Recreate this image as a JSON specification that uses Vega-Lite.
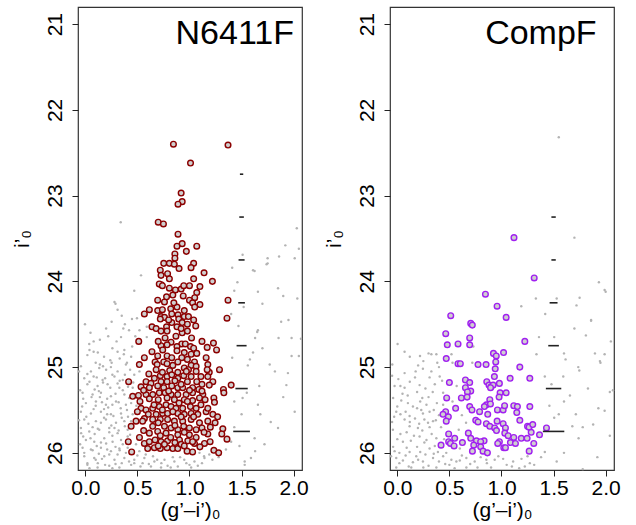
{
"$schema": "https://vega.github.io/schema/vega-lite/v6.json",
"padding": {"left": 10, "top": 6, "right": 10, "bottom": 2},
"spacing": 13,
"config": {
 "font": "Liberation Sans",
 "view": {"stroke": "#333", "strokeWidth": 1.2},
 "axis": {"grid": false, "domain": false, "tickColor": "#222", "tickSize": 6, "labelFont": "Liberation Sans", "titleFont": "Liberation Sans", "labelFontSize": 21, "titleFontSize": 21, "titleFontWeight": "normal", "labelColor": "#000", "titleColor": "#000", "labelOverlap": false, "labelFlush": false, "labelBound": false}
},
"datasets": {
 "grayL": [
{"x":0.34,"y":23.31},{"x":2.03,"y":23.38},{"x":1.92,"y":23.58},{"x":2.05,"y":23.62},{"x":1.86,"y":23.71},{"x":1.75,"y":23.73},{"x":2.01,"y":23.73},{"x":1.51,"y":23.69},{"x":1.41,"y":23.84},{"x":1.75,"y":23.79},{"x":1.625,"y":23.88},{"x":0.535,"y":23.93},{"x":1.46,"y":24.01},{"x":0.47,"y":24.11},{"x":1.85,"y":24.08},{"x":1.657,"y":24.12},{"x":1.9,"y":24.17},{"x":1.43,"y":24.11},{"x":2.035,"y":24.2},{"x":0.28,"y":24.24},{"x":0.31,"y":24.33},{"x":1.7,"y":24.26},{"x":1.4,"y":24.38},{"x":0.448,"y":24.44},{"x":0.496,"y":24.43},{"x":0.253,"y":24.47},{"x":-0.003,"y":24.5},{"x":1.88,"y":24.47},{"x":0.365,"y":24.55},{"x":0.42,"y":24.57},{"x":0.52,"y":24.57},{"x":0.59,"y":24.53},{"x":1.657,"y":24.57},{"x":1.65,"y":24.59},{"x":0.343,"y":24.65},{"x":0.59,"y":24.65},{"x":1.63,"y":24.66},{"x":1.855,"y":24.66},{"x":1.98,"y":24.66},{"x":2.07,"y":24.67},{"x":0.038,"y":24.73},{"x":0.08,"y":24.82},{"x":0.04,"y":24.8},{"x":0.26,"y":24.78},{"x":0.31,"y":24.82},{"x":0.37,"y":24.85},{"x":0.375,"y":24.8},{"x":0.24,"y":24.92},{"x":0.253,"y":24.95},{"x":0.4,"y":24.95},{"x":0.02,"y":24.86},{"x":0.14,"y":24.97},{"x":1.41,"y":24.89},{"x":1.58,"y":24.91},{"x":1.7,"y":24.78},{"x":1.61,"y":24.83},{"x":1.98,"y":24.87},{"x":2.05,"y":24.87},{"x":1.77,"y":24.97},{"x":1.61,"y":23.87},{"x":1.74,"y":23.8},{"x":0.29,"y":24.26},
{"x":-0.042,"y":24.99},{"x":0.054,"y":25.05},{"x":0.134,"y":25.01},{"x":0.2,"y":25.03},{"x":0.246,"y":25.0},{"x":0.31,"y":25.05},{"x":0.39,"y":24.97},{"x":-0.01,"y":25.13},{"x":0.08,"y":25.11},{"x":0.166,"y":25.15},{"x":0.28,"y":25.11},{"x":0.36,"y":25.15},{"x":0.02,"y":25.2},{"x":0.118,"y":25.22},{"x":0.214,"y":25.2},{"x":0.327,"y":25.24},{"x":-0.026,"y":25.3},{"x":0.07,"y":25.32},{"x":0.15,"y":25.3},{"x":0.246,"y":25.34},{"x":0.375,"y":25.32},{"x":0.006,"y":25.42},{"x":0.102,"y":25.4},{"x":0.198,"y":25.44},{"x":0.295,"y":25.4},{"x":0.39,"y":25.44},{"x":-0.042,"y":25.52},{"x":0.054,"y":25.54},{"x":0.15,"y":25.52},{"x":0.246,"y":25.55},{"x":0.343,"y":25.54},{"x":-0.01,"y":25.61},{"x":0.102,"y":25.63},{"x":0.198,"y":25.61},{"x":0.295,"y":25.65},{"x":0.375,"y":25.63},{"x":-0.042,"y":25.71},{"x":0.038,"y":25.75},{"x":0.134,"y":25.73},{"x":0.23,"y":25.71},{"x":0.31,"y":25.77},{"x":0.407,"y":25.73},{"x":0.006,"y":25.85},{"x":0.086,"y":25.87},{"x":0.182,"y":25.83},{"x":0.262,"y":25.87},{"x":0.343,"y":25.85},{"x":-0.026,"y":25.94},{"x":0.054,"y":25.96},{"x":0.15,"y":25.94},{"x":0.246,"y":25.98},{"x":0.327,"y":25.95},{"x":0.407,"y":25.94},{"x":-0.01,"y":26.04},{"x":0.086,"y":26.06},{"x":0.182,"y":26.04},{"x":0.28,"y":26.08},{"x":0.375,"y":26.06},{"x":0.47,"y":26.08},{"x":0.567,"y":26.06},{"x":0.663,"y":26.1},{"x":0.76,"y":26.08},{"x":0.855,"y":26.1},{"x":0.95,"y":26.08},{"x":1.048,"y":26.1},{"x":1.144,"y":26.06},{"x":0.02,"y":26.14},{"x":0.118,"y":26.17},{"x":0.23,"y":26.15},{"x":0.327,"y":26.17},{"x":0.44,"y":26.14},{"x":0.63,"y":26.16},{"x":0.727,"y":26.17},{"x":0.888,"y":26.16},{"x":1.016,"y":26.17},{"x":1.53,"y":26.1},{"x":1.53,"y":26.14},{"x":1.59,"y":26.06},
{"x":1.56,"y":24.98},{"x":1.82,"y":25.05},{"x":1.945,"y":25.07},{"x":1.67,"y":25.22},{"x":1.93,"y":25.21},{"x":1.51,"y":25.36},{"x":1.657,"y":25.44},{"x":2.01,"y":25.52},{"x":1.68,"y":25.55},{"x":1.78,"y":25.64},{"x":1.43,"y":25.7},{"x":1.625,"y":25.83},{"x":1.48,"y":25.92},{"x":1.4,"y":25.87},{"x":1.35,"y":25.96},{"x":1.85,"y":25.71},{"x":1.72,"y":25.9},{"x":0.47,"y":25.09},{"x":0.455,"y":25.24},{"x":0.44,"y":25.42},{"x":0.455,"y":25.55},{"x":0.407,"y":25.81},{"x":0.487,"y":25.9},{"x":0.519,"y":25.98},{"x":1.43,"y":25.4},{"x":1.096,"y":26.0},{"x":1.19,"y":26.02},
{"x":0.02,"y":25.08},{"x":0.11,"y":25.12},{"x":0.17,"y":25.18},{"x":0.26,"y":25.09},{"x":0.33,"y":25.16},{"x":0.43,"y":25.03},{"x":-0.05,"y":25.27},{"x":0.06,"y":25.35},{"x":0.13,"y":25.28},{"x":0.21,"y":25.37},{"x":0.29,"y":25.31},{"x":0.36,"y":25.27},{"x":0.42,"y":25.36},{"x":-0.03,"y":25.46},{"x":0.08,"y":25.49},{"x":0.16,"y":25.41},{"x":0.22,"y":25.47},{"x":0.27,"y":25.57},{"x":0.34,"y":25.48},{"x":0.41,"y":25.58},{"x":-0.06,"y":25.62},{"x":0.03,"y":25.66},{"x":0.12,"y":25.72},{"x":0.18,"y":25.59},{"x":0.25,"y":25.68},{"x":0.32,"y":25.74},{"x":0.38,"y":25.69},{"x":-0.02,"y":25.81},{"x":0.09,"y":25.78},{"x":0.15,"y":25.88},{"x":0.23,"y":25.76},{"x":0.29,"y":25.93},{"x":0.36,"y":25.9},{"x":0.43,"y":25.79},{"x":-0.05,"y":25.9},{"x":0.07,"y":25.97},{"x":0.13,"y":26.01},{"x":0.21,"y":25.96},{"x":0.31,"y":26.02},{"x":0.39,"y":26.0},{"x":0.47,"y":26.12},{"x":0.02,"y":26.12},{"x":0.1,"y":26.08},{"x":0.19,"y":26.14},{"x":0.26,"y":26.18},{"x":0.35,"y":26.12},{"x":0.53,"y":26.16},{"x":0.61,"y":26.13},{"x":0.69,"y":26.08},{"x":0.79,"y":26.15},{"x":0.84,"y":26.05},{"x":0.97,"y":26.12},{"x":1.08,"y":26.15},{"x":1.14,"y":26.04},{"x":1.22,"y":26.08},{"x":0.58,"y":26.02},{"x":0.49,"y":25.45},{"x":0.46,"y":25.18},{"x":0.52,"y":25.05},{"x":0.05,"y":24.6},{"x":0.14,"y":24.68},{"x":0.18,"y":24.88},{"x":0.3,"y":24.7},{"x":0.45,"y":24.76},{"x":0.1,"y":24.95},{"x":0.35,"y":24.4},{"x":0.2,"y":24.55},
{"x":-0.06,"y":25.05},{"x":0.04,"y":25.17},{"x":0.09,"y":25.26},{"x":0.19,"y":25.13},{"x":0.24,"y":25.24},{"x":0.31,"y":25.19},{"x":0.38,"y":25.09},{"x":0.41,"y":25.23},{"x":-0.02,"y":25.37},{"x":0.1,"y":25.45},{"x":0.14,"y":25.35},{"x":0.18,"y":25.49},{"x":0.26,"y":25.44},{"x":0.32,"y":25.41},{"x":0.4,"y":25.5},{"x":0.01,"y":25.58},{"x":0.07,"y":25.7},{"x":0.15,"y":25.65},{"x":0.21,"y":25.55},{"x":0.28,"y":25.71},{"x":0.35,"y":25.59},{"x":0.44,"y":25.63},{"x":-0.04,"y":25.77},{"x":0.05,"y":25.83},{"x":0.11,"y":25.92},{"x":0.2,"y":25.89},{"x":0.26,"y":25.8},{"x":0.33,"y":25.97},{"x":0.4,"y":25.85},{"x":-0.01,"y":26.0},{"x":0.04,"y":26.18},{"x":0.12,"y":26.12},{"x":0.16,"y":26.07},{"x":0.23,"y":26.02},{"x":0.29,"y":26.13},{"x":0.42,"y":26.1},{"x":0.5,"y":26.03},{"x":0.55,"y":26.12},{"x":0.65,"y":26.04},{"x":0.73,"y":26.12},{"x":0.82,"y":26.17},{"x":0.91,"y":26.05},{"x":1.0,"y":26.14},{"x":1.12,"y":26.12},{"x":1.28,"y":26.05},{"x":0.08,"y":24.7},{"x":0.22,"y":24.64},{"x":0.12,"y":24.83},{"x":0.33,"y":24.9},{"x":0.44,"y":24.88},{"x":0.17,"y":24.99},{"x":0.48,"y":24.64},{"x":0.38,"y":24.5},{"x":1.47,"y":24.52},{"x":1.55,"y":25.3},{"x":1.9,"y":25.35},{"x":1.63,"y":25.98},{"x":1.5,"y":25.55},{"x":1.95,"y":24.45},{"x":1.52,"y":24.3}
 ],
 "redL": [
{"x":0.846,"y":22.4},{"x":1.37,"y":22.41},{"x":1.01,"y":22.62},{"x":0.92,"y":22.97},{"x":0.93,"y":23.07},{"x":0.89,"y":23.1},{"x":0.7,"y":23.31},{"x":0.75,"y":23.33},{"x":0.89,"y":23.45},{"x":0.93,"y":23.56},{"x":0.88,"y":23.59},{"x":1.07,"y":23.59},{"x":0.97,"y":23.65},{"x":0.86,"y":23.68},{"x":0.86,"y":23.73},
{"x":0.753,"y":23.79},{"x":0.807,"y":23.79},{"x":0.855,"y":23.8},{"x":1.04,"y":23.79},{"x":1.015,"y":23.84},{"x":0.9,"y":23.85},{"x":0.72,"y":23.87},{"x":0.79,"y":23.91},{"x":0.727,"y":23.93},{"x":1.14,"y":23.9},{"x":0.807,"y":23.97},{"x":1.04,"y":23.97},{"x":1.22,"y":24.0},{"x":0.73,"y":24.04},{"x":0.71,"y":24.03},{"x":0.74,"y":24.05},{"x":0.807,"y":24.08},{"x":0.865,"y":24.1},{"x":0.92,"y":24.09},{"x":0.945,"y":24.05},{"x":1.0,"y":24.05},{"x":1.1,"y":24.06},{"x":1.07,"y":24.13},{"x":0.84,"y":24.16},{"x":1.05,"y":24.19},{"x":1.0,"y":24.22},{"x":0.695,"y":24.22},{"x":0.76,"y":24.24},{"x":1.03,"y":24.25},{"x":1.1,"y":24.27},{"x":1.37,"y":24.22},{"x":1.05,"y":24.3},{"x":0.88,"y":24.3},{"x":0.615,"y":24.33},{"x":0.567,"y":24.38},{"x":0.695,"y":24.34},{"x":0.74,"y":24.33},{"x":0.82,"y":24.32},{"x":0.95,"y":24.34},{"x":0.83,"y":24.38},{"x":0.89,"y":24.39},{"x":0.727,"y":24.41},{"x":0.76,"y":24.42},{"x":0.72,"y":24.44},{"x":0.897,"y":24.44},{"x":0.95,"y":24.41},{"x":0.99,"y":24.41},{"x":1.04,"y":24.45},{"x":1.36,"y":24.43},{"x":0.83,"y":24.48},{"x":0.93,"y":24.48},{"x":0.98,"y":24.5},{"x":1.06,"y":24.52},{"x":0.64,"y":24.53},{"x":0.68,"y":24.55},{"x":0.78,"y":24.53},{"x":0.88,"y":24.53},{"x":0.727,"y":24.58},{"x":0.785,"y":24.58},{"x":0.93,"y":24.6},{"x":0.98,"y":24.58},{"x":0.87,"y":24.64},{"x":0.766,"y":24.66},{"x":0.823,"y":24.71},{"x":0.926,"y":24.73},{"x":0.96,"y":24.73},{"x":0.513,"y":24.7},{"x":0.727,"y":24.75},{"x":0.785,"y":24.74},{"x":0.88,"y":24.76},{"x":1.01,"y":24.76},{"x":1.04,"y":24.78},{"x":1.17,"y":24.77},{"x":1.23,"y":24.72},{"x":1.26,"y":24.8},{"x":0.743,"y":24.8},{"x":0.88,"y":24.81},{"x":0.95,"y":24.83},{"x":1.016,"y":24.85},{"x":1.07,"y":24.84},{"x":0.567,"y":24.89},{"x":0.695,"y":24.87},{"x":0.785,"y":24.87},{"x":0.83,"y":24.89},{"x":0.926,"y":24.89},{"x":0.98,"y":24.91},{"x":1.16,"y":24.89},{"x":0.67,"y":24.94},{"x":0.753,"y":24.94},{"x":0.888,"y":24.94},{"x":1.048,"y":24.94},{"x":1.176,"y":24.97},{"x":0.519,"y":24.97},
{"x":0.69,"y":24.97},{"x":0.785,"y":24.96},{"x":0.84,"y":24.98},{"x":0.95,"y":25.01},{"x":1.016,"y":24.98},{"x":1.064,"y":24.99},{"x":1.288,"y":25.03},{"x":0.68,"y":25.03},{"x":0.81,"y":25.04},{"x":0.888,"y":25.06},{"x":0.99,"y":25.03},{"x":1.064,"y":25.05},{"x":1.19,"y":25.06},{"x":0.72,"y":25.1},{"x":0.785,"y":25.11},{"x":0.83,"y":25.09},{"x":0.945,"y":25.1},{"x":1.016,"y":25.11},{"x":1.11,"y":25.11},{"x":1.176,"y":25.11},{"x":0.663,"y":25.13},{"x":0.888,"y":25.13},{"x":0.416,"y":25.17},{"x":0.583,"y":25.17},{"x":0.63,"y":25.19},{"x":0.727,"y":25.17},{"x":0.785,"y":25.17},{"x":0.98,"y":25.17},{"x":1.07,"y":25.17},{"x":1.12,"y":25.2},{"x":1.224,"y":25.17},{"x":1.4,"y":25.21},{"x":0.535,"y":25.23},{"x":0.615,"y":25.24},{"x":0.695,"y":25.22},{"x":0.753,"y":25.24},{"x":0.83,"y":25.22},{"x":0.888,"y":25.24},{"x":0.935,"y":25.24},{"x":1.03,"y":25.24},{"x":1.09,"y":25.26},{"x":1.19,"y":25.21},{"x":1.326,"y":25.26},{"x":1.33,"y":25.3},{"x":0.455,"y":25.34},{"x":0.51,"y":25.33},{"x":0.583,"y":25.32},{"x":0.647,"y":25.32},{"x":0.71,"y":25.3},{"x":0.766,"y":25.3},{"x":0.823,"y":25.32},{"x":0.888,"y":25.32},{"x":0.968,"y":25.32},{"x":1.03,"y":25.3},{"x":1.128,"y":25.32},{"x":0.615,"y":25.37},{"x":0.785,"y":25.36},{"x":0.855,"y":25.38},{"x":0.95,"y":25.38},{"x":1.03,"y":25.39},{"x":1.096,"y":25.36},{"x":1.234,"y":25.36},{"x":1.24,"y":25.41},{"x":0.525,"y":25.4},{"x":0.535,"y":25.48},{"x":0.583,"y":25.5},{"x":0.647,"y":25.48},{"x":0.71,"y":25.46},{"x":0.775,"y":25.44},{"x":0.823,"y":25.46},{"x":0.87,"y":25.48},{"x":0.935,"y":25.48},{"x":1.009,"y":25.46},{"x":1.064,"y":25.48},{"x":1.11,"y":25.44},{"x":1.16,"y":25.52},{"x":1.224,"y":25.55},{"x":0.605,"y":25.55},{"x":0.68,"y":25.55},{"x":0.743,"y":25.54},{"x":0.79,"y":25.54},{"x":0.888,"y":25.54},{"x":0.95,"y":25.55},{"x":1.016,"y":25.54},{"x":1.08,"y":25.55},{"x":1.176,"y":25.48},{"x":0.487,"y":25.63},{"x":0.567,"y":25.6},{"x":0.647,"y":25.61},{"x":0.72,"y":25.61},{"x":0.79,"y":25.61},{"x":0.855,"y":25.63},{"x":0.935,"y":25.63},{"x":1.016,"y":25.61},{"x":1.096,"y":25.65},{"x":1.176,"y":25.63},{"x":1.246,"y":25.65},{"x":0.44,"y":25.69},{"x":0.56,"y":25.74},{"x":0.647,"y":25.69},{"x":0.695,"y":25.75},{"x":0.76,"y":25.69},{"x":0.823,"y":25.71},{"x":0.888,"y":25.73},{"x":0.945,"y":25.69},{"x":0.999,"y":25.71},{"x":1.064,"y":25.73},{"x":1.12,"y":25.71},{"x":1.176,"y":25.78},{"x":1.32,"y":25.72},{"x":1.31,"y":25.78},{"x":0.615,"y":25.77},{"x":0.775,"y":25.77},{"x":0.888,"y":25.79},{"x":0.999,"y":25.79},{"x":1.064,"y":25.82},{"x":0.413,"y":25.87},{"x":0.567,"y":25.89},{"x":0.615,"y":25.87},{"x":0.67,"y":25.85},{"x":0.727,"y":25.87},{"x":0.79,"y":25.86},{"x":0.904,"y":25.85},{"x":0.984,"y":25.86},{"x":1.048,"y":25.89},{"x":1.144,"y":25.89},{"x":1.198,"y":25.87},{"x":1.36,"y":25.84},{"x":0.599,"y":25.95},{"x":0.663,"y":25.94},{"x":0.72,"y":25.95},{"x":0.785,"y":25.94},{"x":0.84,"y":25.95},{"x":0.888,"y":25.95},{"x":0.977,"y":25.98},{"x":1.03,"y":25.99},{"x":0.445,"y":25.99},{"x":1.234,"y":25.97},{"x":1.28,"y":26.0},{"x":0.92,"y":25.9},{"x":0.76,"y":25.9},
{"x":0.74,"y":25.06},{"x":0.86,"y":25.16},{"x":0.92,"y":25.2},{"x":1.0,"y":25.27},{"x":0.8,"y":25.28},{"x":0.7,"y":25.38},{"x":0.9,"y":25.42},{"x":0.98,"y":25.4},{"x":0.74,"y":25.5},{"x":0.84,"y":25.52},{"x":0.92,"y":25.58},{"x":1.04,"y":25.58},{"x":0.7,"y":25.65},{"x":0.86,"y":25.68},{"x":0.95,"y":25.76},{"x":0.72,"y":25.8},{"x":0.82,"y":25.82},{"x":0.86,"y":25.88},{"x":0.95,"y":25.92},{"x":0.7,"y":25.92},{"x":1.1,"y":25.93},{"x":0.97,"y":25.05},{"x":1.12,"y":25.28},{"x":1.15,"y":25.38},{"x":0.66,"y":25.44},{"x":0.56,"y":25.27},{"x":0.5,"y":25.52},{"x":1.27,"y":25.58},{"x":1.2,"y":25.7},{"x":0.52,"y":25.82},{"x":1.02,"y":24.66},{"x":0.7,"y":24.7},{"x":0.64,"y":24.82},{"x":0.92,"y":24.55},{"x":0.8,"y":24.45},{"x":0.85,"y":24.25},{"x":0.78,"y":24.18},{"x":0.94,"y":24.17},{"x":1.12,"y":24.7},{"x":1.17,"y":25.03},{"x":0.61,"y":25.08},{"x":0.55,"y":25.63},{"x":1.14,"y":25.76},{"x":1.03,"y":25.87}
 ],
 "errL": [
{"y":22.75,"x":1.484,"x2":1.516},{"y":23.25,"x":1.478,"x2":1.522},{"y":23.75,"x":1.471,"x2":1.529},{"y":24.25,"x":1.468,"x2":1.532},{"y":24.75,"x":1.452,"x2":1.548},{"y":25.25,"x":1.441,"x2":1.559},{"y":25.75,"x":1.42,"x2":1.58}
 ],
 "grayR": [
{"x":1.55,"y":22.32},{"x":1.7,"y":23.49},{"x":1.935,"y":24.01},{"x":2.0,"y":24.12},{"x":1.33,"y":24.2},{"x":1.53,"y":24.2},{"x":1.75,"y":24.19},{"x":1.19,"y":24.29},{"x":1.72,"y":24.28},{"x":1.86,"y":24.46},{"x":0.003,"y":24.73},{"x":0.07,"y":24.82},{"x":0.218,"y":24.87},{"x":0.3,"y":24.84},{"x":0.327,"y":24.85},{"x":0.375,"y":24.85},{"x":0.384,"y":24.95},{"x":0.53,"y":24.95},{"x":0.72,"y":24.95},{"x":0.73,"y":24.76},{"x":1.36,"y":24.65},{"x":1.506,"y":24.65},{"x":1.81,"y":24.63},{"x":1.336,"y":24.85},{"x":1.6,"y":24.84},{"x":1.615,"y":24.91},{"x":1.897,"y":24.84},{"x":1.99,"y":24.85},{"x":1.95,"y":24.95},
{"x":-0.048,"y":24.97},{"x":0.07,"y":25.07},{"x":0.246,"y":25.02},{"x":0.327,"y":25.05},{"x":0.176,"y":25.05},{"x":-0.026,"y":25.22},{"x":0.07,"y":25.24},{"x":0.214,"y":25.21},{"x":0.31,"y":25.12},{"x":0.407,"y":25.11},{"x":0.038,"y":25.39},{"x":0.102,"y":25.42},{"x":0.23,"y":25.5},{"x":0.246,"y":25.54},{"x":0.31,"y":25.52},{"x":0.07,"y":25.61},{"x":0.118,"y":25.57},{"x":-0.01,"y":25.52},{"x":0.343,"y":25.63},{"x":0.295,"y":25.65},{"x":0.198,"y":25.71},{"x":0.118,"y":25.69},{"x":-0.042,"y":25.73},{"x":0.054,"y":25.87},{"x":0.214,"y":25.81},{"x":0.28,"y":25.85},{"x":0.375,"y":25.83},{"x":-0.026,"y":25.98},{"x":0.02,"y":26.0},{"x":0.118,"y":25.99},{"x":0.182,"y":26.04},{"x":-0.01,"y":26.06},{"x":0.054,"y":26.09},{"x":0.246,"y":26.1},{"x":0.343,"y":26.06},{"x":0.44,"y":26.04},{"x":0.519,"y":26.08},{"x":0.567,"y":26.1},{"x":0.663,"y":26.06},{"x":0.743,"y":26.1},{"x":0.855,"y":26.08},{"x":0.935,"y":26.08},{"x":1.016,"y":26.07},{"x":1.112,"y":26.1},{"x":1.192,"y":26.07},{"x":1.272,"y":26.12},{"x":-0.01,"y":26.17},{"x":0.134,"y":26.17},{"x":0.375,"y":26.17},{"x":0.663,"y":26.17},{"x":1.53,"y":26.1},{"x":1.224,"y":26.16},{"x":1.314,"y":26.14},{"x":1.416,"y":25.11},{"x":1.593,"y":25.11},{"x":1.737,"y":25.0},{"x":1.747,"y":25.04},{"x":1.945,"y":24.93},{"x":2.04,"y":25.29},{"x":1.657,"y":25.33},{"x":1.93,"y":25.48},{"x":1.506,"y":25.59},{"x":1.68,"y":25.69},{"x":1.714,"y":25.55},{"x":1.416,"y":25.99},{"x":1.74,"y":25.83},{"x":1.88,"y":25.67},
{"x":0.01,"y":25.14},{"x":0.12,"y":25.17},{"x":0.19,"y":25.29},{"x":0.27,"y":25.25},{"x":0.36,"y":25.2},{"x":0.44,"y":25.3},{"x":-0.04,"y":25.36},{"x":0.05,"y":25.31},{"x":0.15,"y":25.46},{"x":0.22,"y":25.4},{"x":0.38,"y":25.42},{"x":0.3,"y":25.35},{"x":0.03,"y":25.55},{"x":0.17,"y":25.6},{"x":0.26,"y":25.61},{"x":0.4,"y":25.56},{"x":-0.05,"y":25.64},{"x":0.09,"y":25.76},{"x":0.24,"y":25.74},{"x":0.33,"y":25.78},{"x":0.42,"y":25.7},{"x":0.0,"y":25.84},{"x":0.13,"y":25.86},{"x":0.19,"y":25.93},{"x":0.31,"y":25.95},{"x":0.39,"y":25.99},{"x":-0.06,"y":26.04},{"x":0.08,"y":26.03},{"x":0.15,"y":26.11},{"x":0.27,"y":26.02},{"x":0.3,"y":26.15},{"x":0.46,"y":26.13},{"x":0.55,"y":26.18},{"x":0.62,"y":26.03},{"x":0.7,"y":26.13},{"x":0.8,"y":26.05},{"x":0.9,"y":26.17},{"x":0.97,"y":26.04},{"x":1.05,"y":26.14},{"x":1.17,"y":26.18},{"x":0.59,"y":25.73},{"x":0.62,"y":25.56},{"x":0.57,"y":25.22},{"x":0.4,"y":25.0},{"x":0.12,"y":24.88},{"x":0.25,"y":24.93},{"x":1.99,"y":24.1},{"x":1.86,"y":24.45},{"x":2.07,"y":25.27},{"x":2.04,"y":25.8},{"x":1.78,"y":25.7},{"x":1.99,"y":25.51},{"x":1.78,"y":26.19},{"x":1.6,"y":25.4},{"x":1.48,"y":25.2},{"x":1.55,"y":25.55},{"x":1.38,"y":26.05},{"x":1.46,"y":25.45},
{"x":-0.05,"y":25.1},{"x":0.03,"y":25.22},{"x":0.1,"y":25.33},{"x":0.17,"y":25.12},{"x":0.24,"y":25.36},{"x":0.34,"y":25.29},{"x":0.43,"y":25.16},{"x":0.0,"y":25.46},{"x":0.08,"y":25.52},{"x":0.19,"y":25.48},{"x":0.28,"y":25.44},{"x":0.35,"y":25.5},{"x":0.44,"y":25.44},{"x":-0.03,"y":25.58},{"x":0.12,"y":25.64},{"x":0.21,"y":25.66},{"x":0.31,"y":25.7},{"x":0.37,"y":25.62},{"x":0.03,"y":25.78},{"x":0.16,"y":25.8},{"x":0.26,"y":25.88},{"x":0.36,"y":25.92},{"x":0.45,"y":25.84},{"x":-0.04,"y":25.93},{"x":0.09,"y":25.94},{"x":0.22,"y":25.99},{"x":0.35,"y":26.01},{"x":0.47,"y":26.0},{"x":0.02,"y":26.12},{"x":0.11,"y":26.16},{"x":0.2,"y":26.08},{"x":0.25,"y":26.17},{"x":0.4,"y":26.1},{"x":0.5,"y":26.14},{"x":0.6,"y":26.09},{"x":0.77,"y":26.17},{"x":0.86,"y":26.12},{"x":1.1,"y":26.16},{"x":1.25,"y":26.04},{"x":0.53,"y":25.4},{"x":0.6,"y":25.95},{"x":0.66,"y":25.65},{"x":0.52,"y":24.85},{"x":0.2,"y":24.98},{"x":1.42,"y":24.38},{"x":1.7,"y":24.55},{"x":2.05,"y":24.7},{"x":1.6,"y":26.0},{"x":1.92,"y":26.05},{"x":1.83,"y":25.25}
 ],
 "purpR": [
{"x":1.12,"y":23.49},{"x":1.314,"y":23.96},{"x":0.846,"y":24.15},{"x":0.958,"y":24.29},{"x":0.513,"y":24.4},{"x":1.045,"y":24.42},{"x":0.705,"y":24.49},{"x":0.72,"y":24.51},{"x":0.465,"y":24.61},{"x":0.695,"y":24.66},{"x":1.224,"y":24.7},{"x":0.48,"y":24.74},{"x":0.583,"y":24.73},{"x":0.695,"y":24.74},{"x":0.47,"y":24.9},{"x":0.923,"y":24.84},{"x":0.95,"y":24.87},{"x":1.02,"y":24.83},{"x":0.945,"y":24.94},{"x":0.583,"y":24.96},{"x":0.605,"y":24.96},{"x":0.775,"y":24.97},{"x":0.852,"y":24.97},{"x":1.176,"y":25.0},{"x":0.94,"y":25.02},
{"x":0.932,"y":25.11},{"x":1.083,"y":25.13},{"x":1.272,"y":25.13},{"x":0.654,"y":25.15},{"x":0.695,"y":25.18},{"x":0.859,"y":25.17},{"x":0.98,"y":25.19},{"x":0.5,"y":25.18},{"x":0.88,"y":25.21},{"x":0.9,"y":25.23},{"x":0.92,"y":25.21},{"x":0.895,"y":25.24},{"x":0.654,"y":25.24},{"x":0.705,"y":25.28},{"x":0.673,"y":25.29},{"x":0.987,"y":25.3},{"x":1.045,"y":25.3},{"x":0.615,"y":25.36},{"x":0.67,"y":25.35},{"x":0.474,"y":25.36},{"x":0.888,"y":25.38},{"x":0.977,"y":25.35},{"x":0.855,"y":25.44},{"x":0.836,"y":25.46},{"x":0.695,"y":25.46},{"x":0.717,"y":25.5},{"x":0.56,"y":25.48},{"x":0.79,"y":25.52},{"x":0.894,"y":25.43},{"x":0.961,"y":25.5},{"x":1.016,"y":25.5},{"x":1.03,"y":25.45},{"x":1.118,"y":25.45},{"x":1.153,"y":25.46},{"x":1.272,"y":25.46},{"x":1.147,"y":25.53},{"x":0.868,"y":25.55},{"x":0.464,"y":25.52},{"x":0.439,"y":25.55},{"x":0.49,"y":25.58},{"x":0.47,"y":25.63},{"x":0.753,"y":25.62},{"x":0.775,"y":25.64},{"x":0.958,"y":25.63},{"x":1.016,"y":25.66},{"x":1.176,"y":25.62},{"x":0.855,"y":25.66},{"x":0.888,"y":25.69},{"x":1.25,"y":25.69},{"x":1.265,"y":25.7},{"x":1.3,"y":25.67},{"x":1.432,"y":25.71},{"x":0.935,"y":25.71},{"x":1.038,"y":25.71},{"x":0.952,"y":25.74},{"x":1.032,"y":25.77},{"x":0.682,"y":25.77},{"x":1.285,"y":25.76},{"x":1.365,"y":25.79},{"x":1.064,"y":25.8},{"x":1.118,"y":25.82},{"x":0.493,"y":25.78},{"x":0.551,"y":25.83},{"x":0.705,"y":25.83},{"x":0.76,"y":25.86},{"x":0.833,"y":25.86},{"x":0.8,"y":25.87},{"x":0.98,"y":25.87},{"x":0.964,"y":25.89},{"x":1.086,"y":25.88},{"x":1.134,"y":25.89},{"x":1.19,"y":25.83},{"x":1.246,"y":25.83},{"x":1.31,"y":25.89},{"x":0.493,"y":25.87},{"x":0.51,"y":25.89},{"x":0.42,"y":25.91},{"x":0.545,"y":25.92},{"x":0.625,"y":25.88},{"x":0.734,"y":25.91},{"x":0.8,"y":25.93},{"x":1.022,"y":25.94},{"x":1.038,"y":25.94},{"x":0.721,"y":25.98},{"x":0.823,"y":25.98},{"x":0.865,"y":26.0},{"x":1.266,"y":25.98}
 ],
 "errR": [
{"y":23.25,"x":1.479,"x2":1.521},{"y":23.75,"x":1.479,"x2":1.521},{"y":24.25,"x":1.462,"x2":1.538},{"y":24.75,"x":1.449,"x2":1.551},{"y":25.25,"x":1.426,"x2":1.574},{"y":25.75,"x":1.397,"x2":1.603}
 ]
},
"hconcat": [
 {
  "width": 224, "height": 463,
  "encoding": {
   "x": {"field": "x", "type": "quantitative", "scale": {"domain": [-0.07, 2.08], "nice": false, "zero": false}, "axis": {"values": [0, 0.5, 1, 1.5, 2], "format": ".1f", "title": "(g’–i’)₀", "labelPadding": 1, "titlePadding": 1}},
   "y": {"field": "y", "type": "quantitative", "scale": {"domain": [20.8, 26.2], "nice": false, "zero": false, "reverse": true}, "axis": {"values": [21, 22, 23, 24, 25, 26], "title": "i’₀", "labelAngle": -90, "labelAlign": "center", "labelBaseline": "bottom", "labelPadding": 7, "titlePadding": 12}}
  },
  "layer": [
   {"data": {"name": "grayL"}, "mark": {"type": "circle", "size": 6, "color": "#b3b3b3", "opacity": 1}},
   {"data": {"name": "redL"}, "mark": {"type": "circle", "size": 32, "fill": "#cfcfcf", "stroke": "#8b0000", "strokeWidth": 1.4, "opacity": 1}},
   {"data": {"name": "errL"}, "mark": {"type": "rule", "color": "#222", "strokeWidth": 1.6}, "encoding": {"x2": {"field": "x2"}}},
   {"data": {"values": [{"label": "N6411F", "x": 2.003, "y": 21.23}]}, "mark": {"type": "text", "align": "right", "baseline": "alphabetic", "fontSize": 34, "font": "Liberation Sans", "color": "#000"}, "encoding": {"text": {"field": "label"}}}
  ]
 },
 {
  "width": 224, "height": 463,
  "encoding": {
   "x": {"field": "x", "type": "quantitative", "scale": {"domain": [-0.07, 2.08], "nice": false, "zero": false}, "axis": {"values": [0, 0.5, 1, 1.5, 2], "format": ".1f", "title": "(g’–i’)₀", "labelPadding": 1, "titlePadding": 1}},
   "y": {"field": "y", "type": "quantitative", "scale": {"domain": [20.8, 26.2], "nice": false, "zero": false, "reverse": true}, "axis": {"values": [21, 22, 23, 24, 25, 26], "title": "i’₀", "labelAngle": -90, "labelAlign": "center", "labelBaseline": "bottom", "labelPadding": 7, "titlePadding": 12}}
  },
  "layer": [
   {"data": {"name": "grayR"}, "mark": {"type": "circle", "size": 6, "color": "#b3b3b3", "opacity": 1}},
   {"data": {"name": "purpR"}, "mark": {"type": "circle", "size": 32, "fill": "#cfcfcf", "stroke": "#a020f0", "strokeWidth": 1.4, "opacity": 1}},
   {"data": {"name": "errR"}, "mark": {"type": "rule", "color": "#222", "strokeWidth": 1.6}, "encoding": {"x2": {"field": "x2"}}},
   {"data": {"values": [{"label": "CompF", "x": 1.913, "y": 21.23}]}, "mark": {"type": "text", "align": "right", "baseline": "alphabetic", "fontSize": 34, "font": "Liberation Sans", "color": "#000"}, "encoding": {"text": {"field": "label"}}}
  ]
 }
]
}
